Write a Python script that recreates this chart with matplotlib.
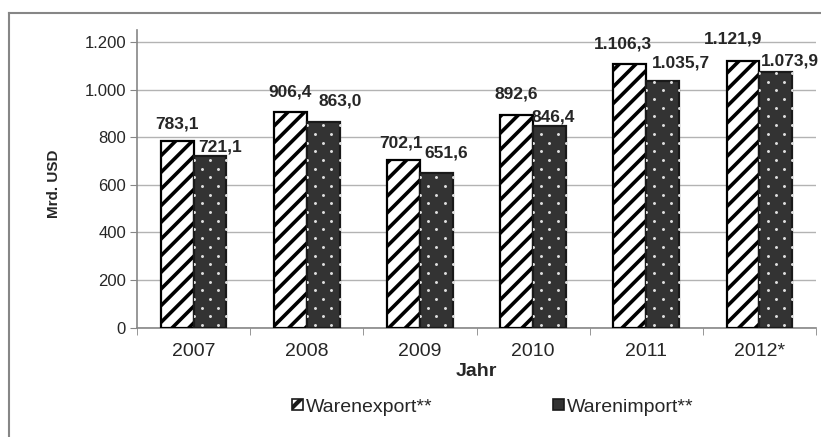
import numpy as np
import matplotlib
matplotlib.use("Agg")
import matplotlib.pyplot as plt
from matplotlib.lines import Line2D
from matplotlib.patches import Patch
from matplotlib.ticker import FuncFormatter

# data
jahre = ["2007", "2008", "2009", "2010", "2011", "2012*"]
export = [783.1, 906.4, 702.1, 892.6, 1106.3, 1121.9]
importe = [721.1, 863.0, 651.6, 846.4, 1035.7, 1073.9]
export_lbl = ["783,1", "906,4", "702,1", "892,6", "1.106,3", "1.121,9"]
import_lbl = ["721,1", "863,0", "651,6", "846,4", "1.035,7", "1.073,9"]

# label nudges (pixels), like the hand-moved excel labels
exp_off = [(0, 13), (0, 15), (-2, 13), (0, 17), (-7, 16), (-10, 17)]
imp_off = [(10, 4), (17, 17), (10, 15), (4, 5), (18, 14), (14, 6)]

plt.rcParams['font.family'] = ['Liberation Sans', 'DejaVu Sans']
txt = '#262626'
grey = '#868686'

fig = plt.figure(figsize=(8.21, 4.37), dpi=100)
ax = fig.add_axes([137/821, 1-327.7/437, (816-137)/821, (327.7-30)/437])

x = np.arange(len(jahre))
w = 0.29

plt.rcParams['hatch.linewidth'] = 2.6
ax.bar(x - w/2, export, w, facecolor='white', edgecolor='black',
       hatch='//', linewidth=1.6, zorder=3)
imp_bars = ax.bar(x + w/2, importe, w, facecolor='#333333', edgecolor='#1a1a1a',
                  linewidth=1.6, zorder=3)

# dotted fill of the import bars (staggered rows, like the excel pattern)
dot_dy = 36.5
for bar in imp_bars:
    l, bw, hgt = bar.get_x(), bar.get_width(), bar.get_height()
    px, py = [], []
    for k, yy in enumerate(np.arange(dot_dy * 0.3, hgt, dot_dy)):
        cols = [0.25, 0.75] if k % 2 == 0 else [0.0, 0.5, 1.0]
        for c in cols:
            px.append(l + c * bw)
            py.append(yy)
    sc = ax.scatter(px, py, s=4.5, color='#e0e0e0', linewidths=0, zorder=3.5)
    sc.set_clip_path(bar)

lblfont = dict(weight='bold', size=12.5, color=txt)
for i in range(len(jahre)):
    ax.annotate(export_lbl[i], (x[i] - w/2, export[i]), xytext=exp_off[i],
                textcoords='offset pixels', ha='center', va='baseline', **lblfont)
    ax.annotate(import_lbl[i], (x[i] + w/2, importe[i]), xytext=imp_off[i],
                textcoords='offset pixels', ha='center', va='baseline', **lblfont)

ax.set_xlim(-0.5, len(jahre) - 0.5)
ax.set_ylim(0, 1250)
ax.set_yticks(np.arange(0, 1201, 200))
ax.yaxis.set_major_formatter(FuncFormatter(lambda v, p: f"{int(v):,}".replace(",", ".")))
ax.set_xticks(x)
ax.set_xticklabels(jahre)
ax.set_xticks(np.arange(-0.5, len(jahre), 1), minor=True)
ax.tick_params(axis='x', which='major', length=0, labelsize=14, colors=txt, pad=11)
ax.tick_params(axis='x', which='minor', length=5, color=grey, direction='out')
ax.tick_params(axis='y', length=5, color=grey, labelsize=12, labelcolor=txt, pad=3)

ax.grid(axis='y', color='#b3b3b3', linewidth=1, zorder=0)
ax.set_axisbelow(True)
for s in ['top', 'right']:
    ax.spines[s].set_visible(False)
for s in ['left', 'bottom']:
    ax.spines[s].set_color(grey)
    ax.spines[s].set_linewidth(1.2)

fig.text(476/821, 1-372/437, "Jahr", ha='center', va='center',
         fontsize=14, fontweight='bold', color=txt)
fig.text(54/821, 1-184/437, "Mrd. USD", rotation=90, ha='center', va='center',
         fontsize=11, fontweight='bold', color=txt)

plt.rcParams['hatch.linewidth'] = 3.0
h_exp = Patch(facecolor='white', edgecolor='#1a1a1a', hatch='//', linewidth=1.2)
h_imp = Patch(facecolor='#333333', edgecolor='#1a1a1a', linewidth=1.2)
fig.legend([h_exp, h_imp], ["Warenexport**", "Warenimport**"], loc='center',
           bbox_to_anchor=(493/821, 1-407/437), ncol=2, frameon=False,
           fontsize=14, handlelength=0.55, handleheight=0.55, handletextpad=0.15,
           columnspacing=6.2, labelcolor=txt)

# outer chart border (left and top only visible)
fig.add_artist(Line2D([9/821, 9/821], [0, 1-13/437], color=grey, linewidth=1.5))
fig.add_artist(Line2D([9/821, 1], [1-13/437, 1-13/437], color=grey, linewidth=1.5))

fig.savefig("out.png", dpi=100)
